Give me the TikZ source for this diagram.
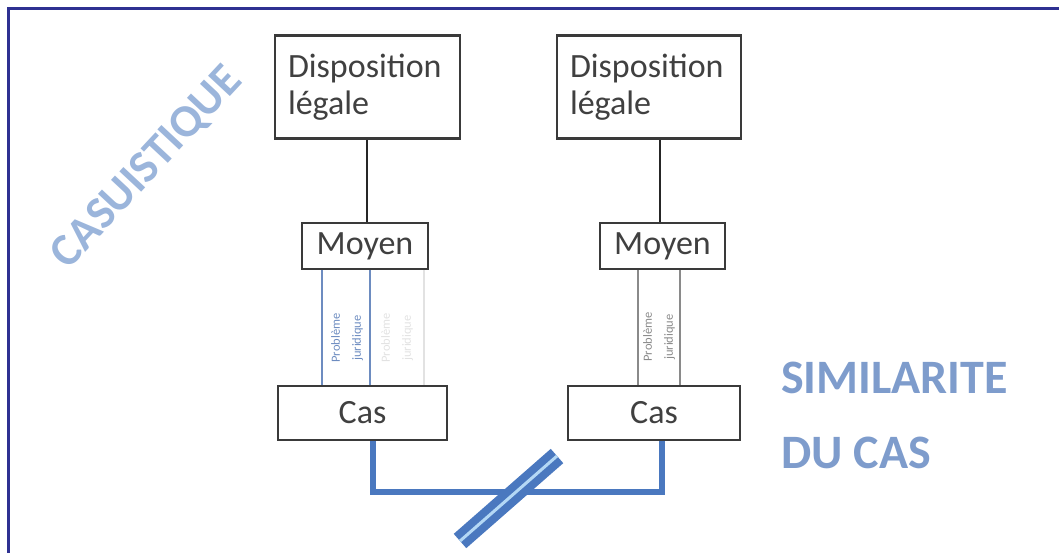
\documentclass[tikz,border=0pt]{standalone}
\usepackage{fontspec}
\setmainfont{Carlito}
\begin{document}
\begin{tikzpicture}[x=1pt,y=-1pt,
  frameline/.style={draw=frameblue,line width=2.5pt},
  boxnode/.style={draw=boxgray,line width=2.2pt,text=textgray,inner sep=0pt,
    font=\fontsize{34}{37}\selectfont},
  joinline/.style={draw=black!85,line width=2pt},
  linkblue/.style={draw=linkcol,line width=6pt},
  probnode/.style={rotate=90,align=center,inner sep=0pt,
    font=\fontsize{12.5}{21}\selectfont},
  bigtitle/.style={font=\bfseries\fontsize{48}{75}\selectfont,align=left,
    text=simcol,inner sep=0pt,anchor=north west},
]
\definecolor{frameblue}{HTML}{2E3192}
\definecolor{boxgray}{HTML}{3A3A3A}
\definecolor{textgray}{HTML}{404040}
\definecolor{linkcol}{HTML}{4A78BF}
\definecolor{stripe}{HTML}{B4D8F5}
\definecolor{casucol}{HTML}{9BB5DB}
\definecolor{simcol}{HTML}{7E9CCC}
\definecolor{probblue}{HTML}{6D8CC0}
\definecolor{probfaint}{HTML}{E2E2E2}
\definecolor{probgray}{HTML}{8A8A8A}

\useasboundingbox (0,0) rectangle (1059,553);

% frame: top and left edges only
\draw[frameline] (8.5,553) -- (8.5,8.5) -- (1059,8.5);

% left column
\node[boxnode,minimum width=185pt,minimum height=103pt,text width=159pt,
  inner xsep=13pt,align=left] (disp1) at (367.5,87) {Disposition\\légale};
\node[boxnode,minimum width=126pt,minimum height=46pt] (moy1) at (365,246) {Moyen};
\node[boxnode,minimum width=169pt,minimum height=54pt] (cas1) at (362.5,413) {Cas};

% right column
\node[boxnode,minimum width=184pt,minimum height=103pt,text width=158pt,
  inner xsep=13pt,align=left] (disp2) at (649,87) {Disposition\\légale};
\node[boxnode,minimum width=125pt,minimum height=46pt] (moy2) at (662.5,246) {Moyen};
\node[boxnode,minimum width=172pt,minimum height=54pt] (cas2) at (654,413) {Cas};

% links from provisions to means
\draw[joinline] (disp1.south -| 367,0) -- (moy1.north -| 367,0);
\draw[joinline] (disp2.south -| 660,0) -- (moy2.north -| 660,0);

% legal problem strips, left
\coordinate (pa) at (322,0);
\coordinate (pb) at (370,0);
\coordinate (pc) at (424,0);
\draw[probfaint,line width=1.2pt] (moy1.south -| pc) -- (cas1.north -| pc);
\draw[probblue,line width=1.6pt] (moy1.south -| pa) -- (cas1.north -| pa);
\draw[probblue,line width=1.6pt] (moy1.south -| pb) -- (cas1.north -| pb);
\node[probnode,text=probblue] (prob1) at (347,338) {Problème\\juridique};
\node[probnode,text=probfaint] (prob2) at (397,338) {Problème\\juridique};

% legal problem strip, right
\coordinate (pd) at (638,0);
\coordinate (pe) at (680,0);
\draw[probgray,line width=1.3pt] (moy2.south -| pd) -- (cas2.north -| pd);
\draw[probgray,line width=1.3pt] (moy2.south -| pe) -- (cas2.north -| pe);
\node[probnode,text=probgray] (prob3) at (659,337) {Problème\\juridique};

% link between the two cases, cut by a double slash
\coordinate (bl) at (373,492);
\coordinate (br) at (662,492);
\draw[linkblue] (cas1.south -| bl) -- (bl) -- (br) -- (cas2.south -| br);
\coordinate (sa) at (460,541);
\coordinate (sb) at (557,456);
\draw[draw=linkcol,line width=8pt,double=stripe,double distance=3pt] (sa) -- (sb);

% titles
\node[font=\bfseries\fontsize{46}{46}\selectfont,text=casucol,rotate=47,inner sep=0pt]
  (casu) at (147,168) {CASUISTIQUE};
\node[bigtitle] (simi) at (781,362) {SIMILARITE\\DU CAS};
\end{tikzpicture}
\end{document}
